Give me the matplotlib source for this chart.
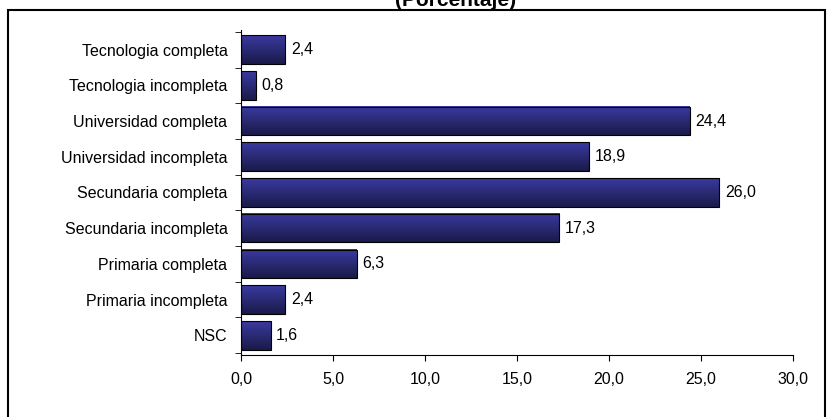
import matplotlib.pyplot as plt
from matplotlib.patches import Rectangle
import numpy as np

categories = ['NSC', 'Primaria incompleta', 'Primaria completa', 'Secundaria incompleta',
              'Secundaria completa', 'Universidad incompleta', 'Universidad completa',
              'Tecnologia incompleta', 'Tecnologia completa']
values = [1.6, 2.4, 6.3, 17.3, 26.0, 18.9, 24.4, 0.8, 2.4]
xticks = [0, 5, 10, 15, 20, 25, 30]

plt.rcParams['font.family'] = ['Liberation Sans', 'DejaVu Sans']
fig = plt.figure(figsize=(8.32, 4.17), dpi=100)
ax = fig.add_axes([0.29, 0.149, 0.663, 0.779])

y = np.arange(len(categories))
bars = ax.barh(y, values, height=0.8, color='#2d2d85', edgecolor='black', linewidth=0.8)
# vertical gradient inside each bar
grad = np.linspace(0, 1, 50).reshape(-1, 1)
cmap = plt.matplotlib.colors.LinearSegmentedColormap.from_list('g', ['#1a1a4a', '#3a3aa0'])
for b in bars:
    x0, y0, w, h = b.get_x(), b.get_y(), b.get_width(), b.get_height()
    ax.imshow(grad, extent=[x0, x0 + w, y0, y0 + h], origin='lower', aspect='auto',
              cmap=cmap, zorder=2)
    b.set_facecolor('none')
    b.set_zorder(3)
for yi, v in zip(y, values):
    ax.text(v + 0.3, yi, f'{v:.1f}'.replace('.', ','), va='center', fontsize=11.5)

ax.set_xlim(0, 30)
ax.set_ylim(-0.55, len(categories) - 0.45)
ax.set_xticks(xticks)
ax.set_xticklabels([f'{t:.1f}'.replace('.', ',') for t in xticks], fontsize=11.5)
ax.set_yticks(y)
ax.set_yticklabels(categories, fontsize=11.5)
ax.set_yticks(np.arange(len(categories) + 1) - 0.5, minor=True)
ax.tick_params(axis='y', which='major', length=0, pad=10)
ax.tick_params(axis='y', which='minor', length=4)
ax.tick_params(axis='x', length=4, pad=8)
ax.spines['top'].set_visible(False)
ax.spines['right'].set_visible(False)

fig.patches.append(Rectangle((8 / 832, -0.01), 817 / 832, 1 - 10 / 417 + 0.01,
                             transform=fig.transFigure, fill=False, edgecolor='black', linewidth=1.5))
fig.text(0.547, 1.0, '(Porcentaje)', ha='center', va='center', fontsize=15, fontweight='bold')
fig.savefig('out.png', dpi=100)
